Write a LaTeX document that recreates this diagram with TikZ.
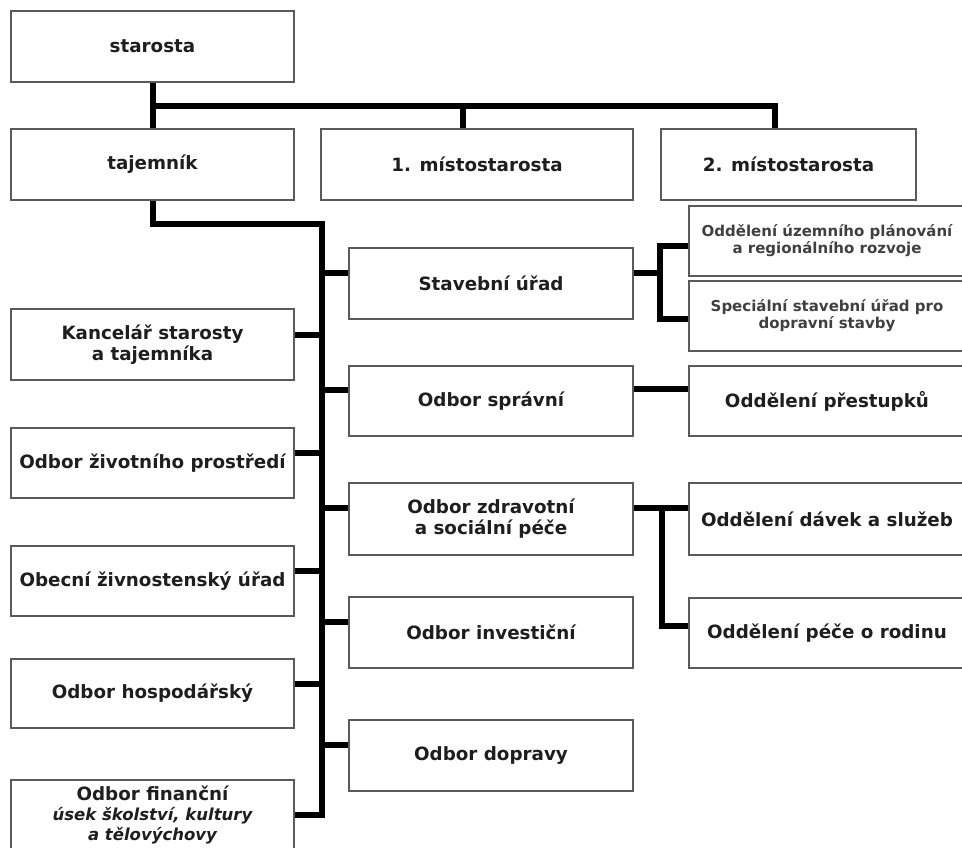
\documentclass[tikz,border=0pt]{standalone}
\usepackage{fontspec}
\setmainfont{DejaVu Sans}
\definecolor{boxgray}{HTML}{5A5A5A}
\definecolor{textgray}{HTML}{1E1E1E}

\begin{document}
\begin{tikzpicture}[x=1pt,y=-1pt,
  box/.style={draw=boxgray, line width=1.4pt, fill=white, inner sep=0pt,
    minimum width=283pt, minimum height=71pt, align=center, text=textgray,
    font=\bfseries\fontsize{18.3}{21}\selectfont},
  midbox/.style={box, minimum width=284pt},
  subbox/.style={box, minimum width=276pt, minimum height=70pt},
  smalltext/.style={font=\bfseries\fontsize{15}{17}\selectfont, text=textgray!85},
  link/.style={line width=6pt}]
\useasboundingbox (0,0) rectangle (962,848);
% top of the office
\node[box] (starosta) at (152.5,46.5) {starosta};
\node[box] (tajemnik) at (152.5,164.5) {tajemník};
\node[box, minimum width=312pt] (mist1) at (477,164.5) {1. místostarosta};
\node[box, minimum width=255pt] (mist2) at (788.5,164.5) {2. místostarosta};
% left column
\node[box] (kanc) at (152.5,344.5) {Kancelář starosty\\a tajemníka};
\node[box, minimum height=70pt] (ziv) at (152.5,463) {Odbor životního prostředí};
\node[box, minimum height=70pt] (obec) at (152.5,581) {Obecní živnostenský úřad};
\node[box, minimum height=69pt] (hosp) at (152.5,693.5) {Odbor hospodářský};
\node[box, minimum height=70pt, font=\bfseries\fontsize{18.3}{20}\selectfont] (financ) at (152.5,815)
  {Odbor finanční\\\itshape\fontsize{16.5}{20}\selectfont úsek školství, kultury\\\itshape\fontsize{16.5}{20}\selectfont a tělovýchovy};
% middle column
\node[midbox] (stav) at (491,283.5) {Stavební úřad};
\node[midbox, minimum height=70pt] (sprav) at (491,401) {Odbor správní};
\node[midbox, minimum height=72pt] (zdrav) at (491,519) {Odbor zdravotní\\a sociální péče};
\node[midbox] (invest) at (491,632.5) {Odbor investiční};
\node[midbox] (doprava) at (491,755.5) {Odbor dopravy};
% right column
\node[subbox, smalltext] (uzem) at (827,241) {Oddělení územního plánování\\a regionálního rozvoje};
\node[subbox, smalltext] (spec) at (827,316) {Speciální stavební úřad pro\\dopravní stavby};
\node[subbox] (prest) at (827,401) {Oddělení přestupků};
\node[subbox, minimum height=72pt] (davky) at (827,519) {Oddělení dávek a služeb};
\node[subbox] (rodina) at (827,633) {Oddělení péče o rodinu};
% connectors
\coordinate (bus) at (152.5,106);
\coordinate (spine) at (322,224);
\draw[link] (starosta.south) -- (tajemnik.north);
\draw[link] (bus) -| ([xshift=-14pt]mist1.north);
\draw[link] ([xshift=-14pt]mist1.north |- bus) -| ([xshift=-13.5pt]mist2.north);
\draw[link] (tajemnik.south) |- (spine) |- (financ.east);
\foreach \n in {kanc,ziv,obec,hosp}
  \draw[link] ([yshift=10pt]\n.east) -- ++(28,0);
\foreach \n in {stav,sprav,zdrav,invest,doprava}
  \draw[link] ([yshift=11pt]\n.west) -- ++(-27,0);
\draw[link] ([yshift=11pt]stav.east) -- ++(28,0);
\draw[link] ([yshift=-5pt]uzem.west) -- ++(-28,0) |- ([yshift=-3pt]spec.west);
\draw[link] ([yshift=12pt]sprav.east) -- ([yshift=12pt]prest.west);
\draw[link] ([yshift=11pt]zdrav.east) -- ([yshift=11pt]davky.west);
\draw[link] ([yshift=11pt]zdrav.east) ++(28,0) |- ([yshift=7pt]rodina.west);
\end{tikzpicture}
\end{document}
